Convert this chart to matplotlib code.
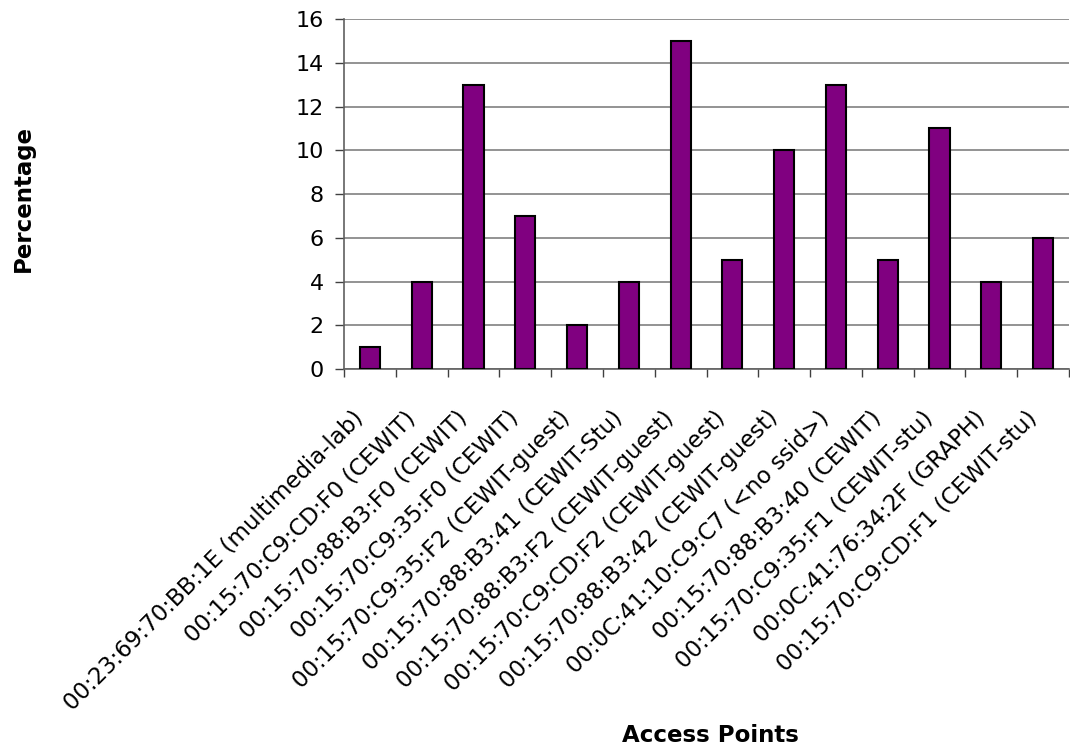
import matplotlib
matplotlib.use("Agg")
import matplotlib.pyplot as plt
import numpy as np

plt.rcParams['font.family'] = ['DejaVu Sans']

access_points = [
    "00:23:69:70:BB:1E (multimedia-lab)",
    "00:15:70:C9:CD:F0 (CEWIT)",
    "00:15:70:88:B3:F0 (CEWIT)",
    "00:15:70:C9:35:F0 (CEWIT)",
    "00:15:70:C9:35:F2 (CEWIT-guest)",
    "00:15:70:88:B3:41 (CEWIT-Stu)",
    "00:15:70:88:B3:F2 (CEWIT-guest)",
    "00:15:70:C9:CD:F2 (CEWIT-guest)",
    "00:15:70:88:B3:42 (CEWIT-guest)",
    "00:0C:41:10:C9:C7 (<no ssid>)",
    "00:15:70:88:B3:40 (CEWIT)",
    "00:15:70:C9:35:F1 (CEWIT-stu)",
    "00:0C:41:76:34:2F (GRAPH)",
    "00:15:70:C9:CD:F1 (CEWIT-stu)",
]
percentages = [1, 4, 13, 7, 2, 4, 15, 5, 10, 13, 5, 11, 4, 6]
y_ticks = [0, 2, 4, 6, 8, 10, 12, 14, 16]

fig = plt.figure(figsize=(10.7, 7.51), dpi=100)
ax = fig.add_axes([344/1070, 1 - 369/751, (1069 - 344)/1070, (369 - 19)/751])

x = np.arange(len(access_points))
ax.bar(x, percentages, width=0.39, color='#800080', edgecolor='black', linewidth=1.5, zorder=3)

ax.set_xlim(-0.5, len(access_points) - 0.5)
ax.set_ylim(0, 16)
ax.set_yticks(y_ticks)
ax.set_yticklabels([str(v) for v in y_ticks], fontsize=16)
ax.yaxis.grid(True, color='#808080', linewidth=1.2, zorder=0)
ax.set_axisbelow(True)

ax.set_xticks(np.arange(len(access_points) + 1) - 0.5)
ax.set_xticklabels([])
ax.tick_params(axis='x', direction='out', length=5.5, color='#404040', width=1)
ax.tick_params(axis='y', direction='out', length=6.5, color='#404040', width=1, pad=8)

for xi, lab in zip(x, access_points):
    ax.annotate(lab, xy=(xi, 0), xycoords=('data', 'axes fraction'),
                xytext=(-13, -27), textcoords='offset points',
                rotation=45, ha='right', va='top', rotation_mode='anchor',
                fontsize=16.5)

for s in ['top', 'right']:
    ax.spines[s].set_visible(False)
ax.spines['left'].set_color('#606060')
ax.spines['bottom'].set_color('#606060')
ax.spines['left'].set_linewidth(1.2)
ax.spines['bottom'].set_linewidth(1.2)

fig.text(23/1070, 1 - 198/751, "Percentage", rotation=90, fontsize=16.5, fontweight='bold',
         ha='center', va='center')
fig.text(710/1070, 1 - 735/751, "Access Points", fontsize=16.5, fontweight='bold',
         ha='center', va='center')

fig.savefig("out.png", dpi=100)
